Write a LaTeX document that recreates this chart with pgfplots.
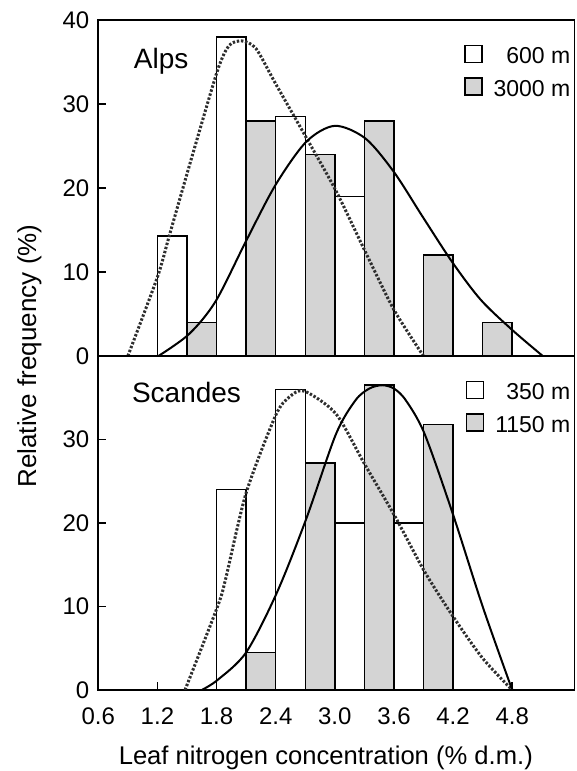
\documentclass[border=0pt]{standalone}
\usepackage{fontspec}
\setmainfont{Liberation Sans}
\usepackage{pgfplots}
\pgfplotsset{compat=1.18}

\pgfplotsset{
  panel/.style={
    width=238pt, scale only axis,
    xmin=0.6, xmax=5.43, ymin=0, ymax=40,
    axis line style={line width=0.8pt},
    tick style={black, line width=0.8pt},
    tick align=inside, major tick length=4pt,
    xtick pos=left, ytick pos=left,
    tick label style={font=\fontsize{12}{14}\selectfont},
    yticklabel style={xshift=-1pt},
    xticklabel style={yshift=-5.5pt},
    /pgf/number format/assume math mode=true,
    legend cell align=right,
    legend image code/.code={\draw[line width=0.7pt,##1] (0pt,-3.45pt) rectangle (8.5pt,5.05pt);},
    legend style={draw=none, fill=none, inner sep=0pt, outer sep=0pt,
      at={(rel axis cs:1,1)}, anchor=north east, xshift=-2pt, yshift=-12.35pt,
      column sep=5.5pt, row sep=6.8pt,
      font=\fontsize{11.5}{13}\selectfont,
      nodes={inner sep=0pt, text height=8.3pt, text depth=0pt}},
  },
  whitebar/.style={ybar, bar width=0.3, bar shift=0pt, fill=white, draw=black, line width=0.75pt, forget plot},
  greybar/.style={ybar, bar width=0.3, bar shift=0pt, fill=black!17, draw=black, line width=0.75pt, forget plot},
  lowsite/.style={smooth, tension=0.45, no markers, black!82, line width=1.5pt, dash pattern=on 1.2pt off 0.9pt, forget plot},
  highsite/.style={smooth, tension=0.5, no markers, black, line width=1pt, forget plot},
}

\begin{document}
\begin{tikzpicture}
\useasboundingbox (-49.15pt,-40.5pt) rectangle (239pt,345pt);

% Alps
\begin{axis}[panel, name=top, height=168pt, at={(0,167pt)}, anchor=south west,
  xtick=\empty, ytick={0,10,20,30,40}]
\addplot[whitebar] coordinates {(1.35,14.3) (1.95,38.0) (2.55,28.5) (3.15,19.0)};
\addplot[greybar] coordinates {(1.65,4.0) (2.25,28.0) (2.85,24.0) (3.45,28.0) (4.05,12.0) (4.65,4.0)};
% 600 m
\addplot[lowsite] coordinates {
(0.90,0) (1.20,9.4) (1.32,14.3) (1.54,23.3) (1.81,34.0) (1.93,37.0) (2.06,37.5)
(2.20,36.6) (2.40,32.4) (2.71,26.0) (3.01,19.7) (3.31,12.4) (3.60,5.5) (3.90,0)};
% 3000 m
\addplot[highsite] coordinates {
(1.21,0) (1.52,2.6) (1.79,6.5) (2.10,13.7) (2.40,20.4) (2.71,25.5) (3.00,27.4)
(3.31,25.9) (3.60,21.9) (3.89,16.6) (4.19,11.2) (4.48,6.7) (4.80,3.1) (5.11,0)};
\addlegendimage{draw=black, fill=white}
\addlegendentry{600 m}
\addlegendimage{draw=black, fill=black!17}
\addlegendentry{3000 m}
\node[anchor=base west, font=\fontsize{14}{16}\selectfont] at (rel axis cs:0.06,0.857) {Alps};
\end{axis}

% Scandes
\begin{axis}[panel, name=bot, height=167pt, at={(0,0)}, anchor=south west,
  xtick={0.6,1.2,1.8,2.4,3.0,3.6,4.2,4.8},
  xticklabels={0.6,1.2,1.8,2.4,3.0,3.6,4.2,4.8},
  ytick={0,10,20,30},
  xlabel={Leaf nitrogen concentration (\% d.m.)},
  xlabel style={font=\fontsize{12.8}{15}\selectfont, at={(axis description cs:0.478,0)}, anchor=base, yshift=-37.5pt}]
\addplot[whitebar] coordinates {(1.95,24.0) (2.55,36.0) (3.15,20.0) (3.75,20.0)};
\addplot[greybar] coordinates {(2.25,4.5) (2.85,27.2) (3.45,36.5) (4.05,31.8)};
% 350 m
\addplot[lowsite] coordinates {
(1.48,0) (1.81,10.0) (1.89,13.2) (2.10,23.6) (2.40,32.9) (2.54,35.1) (2.69,35.8)
(3.01,33.1) (3.30,27.1) (3.61,20.8) (3.91,14.2) (4.20,8.8) (4.50,3.8) (4.80,0)};
% 1150 m
\addplot[highsite] coordinates {
(1.65,0) (1.81,1.2) (2.10,4.5) (2.41,11.6) (2.71,20.5) (3.01,30.6) (3.21,34.7)
(3.35,36.1) (3.48,36.5) (3.60,36.1) (3.72,34.7) (3.91,30.7) (4.20,21.0) (4.50,10.0) (4.80,0)};
\addlegendimage{draw=black, fill=white}
\addlegendentry{350 m}
\addlegendimage{draw=black, fill=black!17}
\addlegendentry{1150 m}
\node[anchor=base west, font=\fontsize{14}{16}\selectfont] at (rel axis cs:0.056,0.862) {Scandes};
\end{axis}

\node[rotate=90, font=\fontsize{13}{15}\selectfont] at ([xshift=-34.4pt]bot.north west) {Relative frequency (\%)};
\end{tikzpicture}
\end{document}
